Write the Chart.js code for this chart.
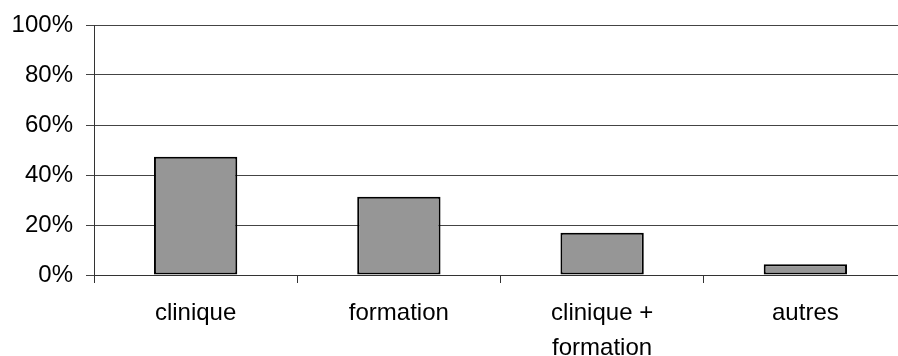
<!DOCTYPE html>
<html>
<head>
<meta charset="utf-8">
<script src="https://cdn.jsdelivr.net/npm/chart.js@4/dist/chart.umd.min.js"></script>
<style>
html,body{margin:0;padding:0;background:#fff;overflow:hidden;}
#wrap{position:relative;width:908px;height:356px;}
</style>
</head>
<body>
<div id="wrap"><canvas id="c"></canvas></div>
<script>
const categories = [["clinique"], ["formation"], ["clinique +", "formation"], ["autres"]];
const values = [47.3, 31.3, 16.9, 4.3];
const yTicks = [0, 20, 40, 60, 80, 100];

const XFONT = {family: "'Liberation Sans', Arial, sans-serif", size: 24, lineHeight: 1.46};
const YFONT = {family: "'Liberation Sans', Arial, sans-serif", size: 24, lineHeight: 0.9};

new Chart(document.getElementById('c'), {
  type: 'bar',
  data: {
    labels: categories,
    datasets: [{
      data: values,
      backgroundColor: '#969696',
      borderColor: '#000',
      borderWidth: 2,
      borderSkipped: false,
      barPercentage: 0.41,
      categoryPercentage: 1
    }]
  },
  options: {
    responsive: true,
    maintainAspectRatio: false,
    animation: false,
    layout: {padding: {top: 25, left: 0, right: 1, bottom: 0}},
    plugins: {legend: {display: false}, tooltip: {enabled: false}},
    scales: {
      x: {
        grid: {drawOnChartArea: false, drawTicks: true, tickLength: 8, color: '#333', offset: true},
        border: {display: true, color: '#333', width: 1},
        ticks: {font: XFONT, color: '#000', padding: 13, maxRotation: 0, autoSkip: false},
        afterFit: s => { s.height = 81; }
      },
      y: {
        min: 0, max: 100,
        afterBuildTicks: s => { s.ticks = yTicks.map(v => ({value: v})); },
        grid: {color: '#444', lineWidth: 1, tickLength: 8, drawTicks: true},
        border: {display: true, color: '#333', width: 1},
        ticks: {font: YFONT, color: '#000', padding: 13, callback: v => v + '%'},
        afterFit: s => { s.width = 94; }
      }
    }
  }
});
</script>
</body>
</html>
